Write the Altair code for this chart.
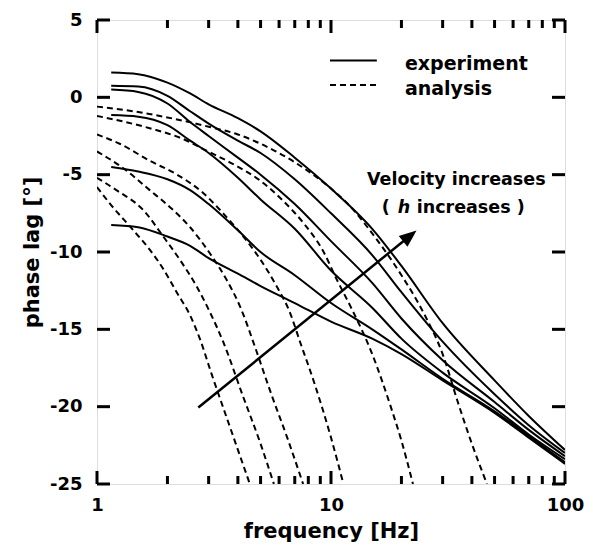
import altair as alt
import pandas as pd

# ---------------- data ----------------
exp_freq = [1.15, 1.5, 2, 2.5, 3, 4, 5, 7, 10, 15, 20, 30, 50, 70, 100]
exp_1 = [1.6, 1.5, 0.95, 0.25, -0.45, -1.35, -2.2, -3.9, -5.9, -8.5, -10.9, -14.6, -18.3, -20.6, -22.8]
exp_2 = [0.75, 0.7, 0.1, -0.9, -1.7, -2.8, -3.6, -5.3, -7.5, -10.2, -12.6, -15.8, -19.2, -21.2, -23.0]
exp_3 = [0.5, 0.35, -0.4, -1.6, -2.5, -3.9, -5.0, -6.9, -9.3, -12.0, -14.3, -17.0, -19.7, -21.5, -23.2]
exp_4 = [-1.15, -1.25, -1.8, -2.8, -3.6, -5.2, -6.6, -8.5, -11.2, -13.6, -15.6, -17.8, -20.1, -21.8, -23.4]
exp_5 = [-4.5, -4.8, -5.3, -6.0, -6.9, -8.6, -10.0, -11.5, -13.3, -15.0, -16.3, -18.2, -20.3, -21.9, -23.6]
exp_6 = [-8.25, -8.4, -9.0, -9.6, -10.4, -11.4, -12.2, -13.3, -14.5, -15.6, -16.6, -18.3, -20.4, -22.0, -23.7]

ana_f1 = [1, 1.5, 2, 3, 4, 5, 7, 10, 12, 15, 20, 25, 30, 35, 40, 46.4]
ana_1 = [-0.6, -0.95, -1.3, -1.9, -2.4, -3.0, -4.2, -5.9, -7.0, -8.8, -11.5, -14.0, -16.6, -19.8, -22.4, -25]
ana_f2 = [1, 1.68, 2.34, 2.85, 3.8, 5, 6.25, 7.6, 9.3, 10.6, 12.1, 15, 18, 20, 22.4]
ana_2 = [-1.2, -2.0, -2.7, -3.35, -4.3, -5.4, -6.7, -8.1, -10.0, -11.8, -13.5, -16.6, -20.0, -22.2, -25]
ana_f3 = [1, 1.25, 1.68, 2.2, 2.85, 3.46, 4.22, 5, 5.85, 6.67, 7.37, 8.5, 10, 11.3]
ana_3 = [-2.4, -3.0, -4.1, -5.0, -6.2, -7.5, -9.0, -10.5, -12.2, -13.9, -15.8, -18.5, -22.0, -25]
ana_f4 = [1, 1.3, 1.68, 2.05, 2.5, 3.04, 3.58, 4.08, 4.8, 5.5, 6.5, 7.6]
ana_4 = [-3.5, -4.6, -6.0, -7.1, -8.4, -10.1, -11.8, -13.5, -16.4, -19.0, -22.0, -25]
ana_f5 = [1, 1.21, 1.58, 1.92, 2.26, 2.66, 3.04, 3.46, 4.2, 5, 5.7]
ana_5 = [-5.2, -6.0, -7.3, -9.0, -10.5, -12.2, -13.9, -15.8, -19.3, -22.4, -25]
ana_f6 = [1, 1.14, 1.43, 1.68, 1.92, 2.19, 2.5, 2.75, 3.09, 3.6, 4.5]
ana_6 = [-5.8, -6.9, -8.6, -9.85, -11.1, -12.6, -14.1, -15.6, -17.9, -20.8, -25]

x_major = [1, 10, 100]
x_minor = [2, 3, 4, 5, 6, 7, 8, 9, 20, 30, 40, 50, 60, 70, 80, 90]
y_major = [-25, -20, -15, -10, -5, 0, 5]

legend_labels = ["experiment", "analysis"]
legend_line_f = [9.9, 15.7]
legend_line_v = [2.38, 0.79]
legend_text_f = 20.7
legend_text_v = [1.75, 0.15]

arrow_f = [2.71, 21.72]
arrow_v = [-20.06, -8.96]
ann_line1 = "Velocity increases"
ann_f1, ann_v1 = 14.25, -5.70
ann_f2, ann_v2 = 16.47, -7.51

# ---------------- tables ----------------
exp_series = [exp_1, exp_2, exp_3, exp_4, exp_5, exp_6]
exp_df = pd.DataFrame([{"series": f"e{i}", "f": f, "v": v}
                       for i, vals in enumerate(exp_series)
                       for f, v in zip(exp_freq, vals)])
ana_series = [(ana_f1, ana_1), (ana_f2, ana_2), (ana_f3, ana_3),
              (ana_f4, ana_4), (ana_f5, ana_5), (ana_f6, ana_6)]
ana_df = pd.DataFrame([{"series": f"a{i}", "f": f, "v": v}
                       for i, (fs, vals) in enumerate(ana_series)
                       for f, v in zip(fs, vals)])

W, H = 468, 464
FONT = "DejaVu Sans"

x_enc = alt.X("f:Q",
              scale=alt.Scale(type="log", domain=[1, 100], nice=False),
              axis=alt.Axis(values=x_major, labelExpr="datum.value + ''",
                            ticks=False, domain=False, grid=False,
                            labelFlush=False, labelOverlap=False, labelBound=False,
                            labelPadding=12, labelFontSize=18, labelFont=FONT,
                            labelFontWeight="bold", labelColor="black",
                            title="frequency [Hz]", titleFontSize=21, titleFont=FONT,
                            titleFontWeight="bold", titleColor="black", titlePadding=6))
y_enc = alt.Y("v:Q",
              scale=alt.Scale(domain=[-25, 5], nice=False, zero=False),
              axis=alt.Axis(values=y_major, labelExpr="datum.value + ''",
                            ticks=False, domain=False, grid=False,
                            labelPadding=15, labelFontSize=18, labelFont=FONT,
                            labelFontWeight="bold", labelColor="black",
                            title="phase lag [°]", titleFontSize=21, titleFont=FONT,
                            titleFontWeight="bold", titleColor="black", titlePadding=7))

exp_layer = alt.Chart(exp_df).mark_line(color="black", strokeWidth=2, clip=True,
                                        interpolate="monotone").encode(
    x=x_enc, y=y_enc, detail="series:N")
ana_layer = alt.Chart(ana_df).mark_line(color="black", strokeWidth=2, strokeDash=[6, 4],
                                        clip=True, interpolate="monotone").encode(
    x=x_enc, y=y_enc, detail="series:N")

# inward ticks
xmaj_df = pd.DataFrame({"f": x_major})
xmin_df = pd.DataFrame({"f": x_minor})
ymaj_df = pd.DataFrame({"v": y_major})
tick_layers = [
    alt.Chart(xmaj_df).mark_rule(color="black", strokeWidth=3).encode(x=x_enc, y=alt.value(H), y2=alt.value(H - 13)),
    alt.Chart(xmaj_df).mark_rule(color="black", strokeWidth=3).encode(x=x_enc, y=alt.value(0), y2=alt.value(13)),
    alt.Chart(xmin_df).mark_rule(color="black", strokeWidth=3).encode(x=x_enc, y=alt.value(H), y2=alt.value(H - 8)),
    alt.Chart(xmin_df).mark_rule(color="black", strokeWidth=3).encode(x=x_enc, y=alt.value(0), y2=alt.value(8)),
    alt.Chart(ymaj_df).mark_rule(color="black", strokeWidth=3).encode(y=y_enc, x=alt.value(0), x2=alt.value(13)),
    alt.Chart(ymaj_df).mark_rule(color="black", strokeWidth=3).encode(y=y_enc, x=alt.value(W), x2=alt.value(W - 13)),
]

# legend
leg_solid = alt.Chart(pd.DataFrame({"f": legend_line_f, "v": [legend_line_v[0]] * 2})).mark_line(
    color="black", strokeWidth=2).encode(x=x_enc, y=y_enc)
leg_dash = alt.Chart(pd.DataFrame({"f": legend_line_f, "v": [legend_line_v[1]] * 2})).mark_line(
    color="black", strokeWidth=2, strokeDash=[6, 4]).encode(x=x_enc, y=y_enc)
leg_text = alt.Chart(pd.DataFrame({"f": [legend_text_f] * 2, "v": legend_text_v, "t": legend_labels})).mark_text(
    font=FONT, fontWeight="bold", fontSize=19, align="left", baseline="alphabetic", color="black").encode(
    x=x_enc, y=y_enc, text="t:N")

# arrow annotation
arrow_df = pd.DataFrame({"f": arrow_f, "v": arrow_v})
arrow_line = alt.Chart(arrow_df).mark_line(color="black", strokeWidth=2.5).encode(x=x_enc, y=y_enc)
arrow_head = alt.Chart(arrow_df.iloc[[1]]).mark_point(
    shape="M0,-1L0.8,1L-0.8,1Z", filled=True, color="black", opacity=1, size=300, angle=51,
    strokeWidth=0).encode(x=x_enc, y=y_enc)

t1 = alt.Chart(pd.DataFrame({"f": [ann_f1], "v": [ann_v1], "t": [ann_line1]})).mark_text(
    font=FONT, fontWeight="bold", fontSize=17.5, align="left", baseline="alphabetic", color="black").encode(
    x=x_enc, y=y_enc, text="t:N")
seg_df = pd.DataFrame({"f": [ann_f2], "v": [ann_v2]})
t2a = alt.Chart(seg_df).mark_text(text="(", font=FONT, fontWeight="bold", fontSize=17.5, align="left",
                                  baseline="alphabetic", color="black").encode(x=x_enc, y=y_enc)
t2b = alt.Chart(seg_df).mark_text(text="h", font=FONT, fontWeight="bold", fontStyle="italic", fontSize=17.5,
                                  align="left", baseline="alphabetic", dx=16, color="black").encode(x=x_enc, y=y_enc)
t2c = alt.Chart(seg_df).mark_text(text="increases )", font=FONT, fontWeight="bold", fontSize=17.5,
                                  align="left", baseline="alphabetic", dx=35, color="black").encode(x=x_enc, y=y_enc)

chart = alt.layer(
    ana_layer, exp_layer, *tick_layers, leg_solid, leg_dash, leg_text,
    arrow_line, arrow_head, t1, t2a, t2b, t2c
).properties(
    width=W, height=H,
    autosize=alt.AutoSizeParams(type="none"),
    padding={"left": 89, "top": 12, "right": 20, "bottom": 60},
).configure_view(stroke="black", strokeWidth=3.5).configure(background="white")

chart.save("out.html", embed_options={"renderer": "svg", "actions": False})
